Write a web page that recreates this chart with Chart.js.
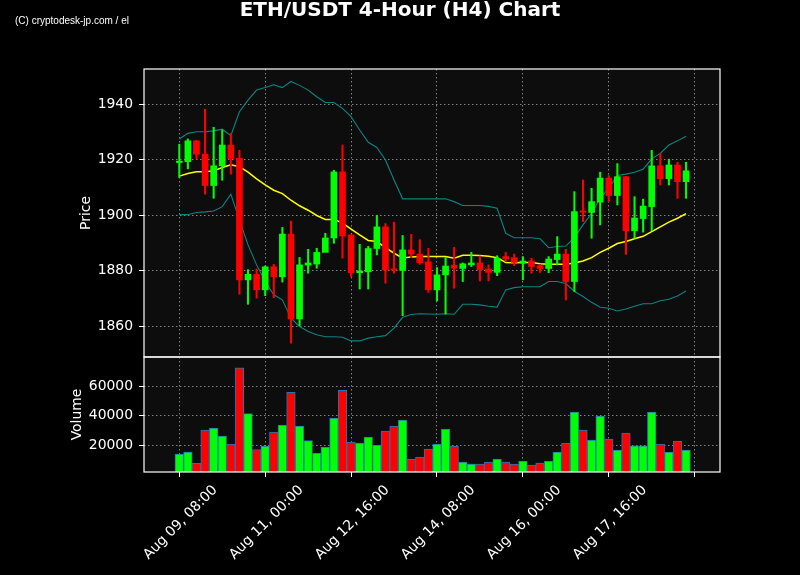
<!DOCTYPE html>
<html lang="en">
<head>
    <meta charset="UTF-8">
    <title>ETH/USDT 4-Hour (H4) Chart</title>
    <script src="https://cdn.jsdelivr.net/npm/chart.js"></script>
    <style>
        body {
            margin: 0;
            background: #000;
        }
        canvas {
            display: block;
        }
    </style>
</head>
<body>
    <canvas id="ethChart" width="800" height="575"></canvas>

    <script>
        // 4h candles, Aug 09 08:00 -> Aug 19 04:00 (index 0..59)
        var open = [
            1919.0, 1919.3, 1926.8, 1922.0, 1910.7, 1917.8, 1925.3, 1920.5, 1876.7, 1878.7,
            1873.1, 1881.4, 1877.8, 1893.2, 1862.6, 1882.0, 1882.4, 1886.6, 1891.8, 1915.6,
            1892.9, 1879.3, 1879.6, 1888.0, 1895.8, 1880.6, 1880.1, 1887.5, 1886.0, 1883.2,
            1873.1, 1878.5, 1882.0, 1880.8, 1882.1, 1882.8, 1880.6, 1879.4, 1885.1, 1884.7,
            1882.7, 1883.5, 1881.8, 1880.8, 1884.0, 1886.0, 1876.1, 1901.4, 1901.0, 1904.7,
            1913.4, 1907.1, 1913.9, 1894.4, 1898.8, 1903.1, 1917.8, 1913.2, 1918.1, 1912.1
        ];
        var high = [
            1925.6, 1927.5, 1927.0, 1938.2, 1931.7, 1930.7, 1929.5, 1923.4, 1880.4, 1880.6,
            1881.7, 1882.3, 1895.6, 1897.9, 1884.8, 1887.7, 1888.1, 1893.5, 1916.2, 1925.3,
            1893.0, 1889.5, 1888.8, 1899.9, 1897.0, 1897.5, 1892.7, 1893.1, 1891.2, 1888.1,
            1881.1, 1884.8, 1888.4, 1882.8, 1886.6, 1885.3, 1882.1, 1885.4, 1886.6, 1886.0,
            1885.1, 1884.5, 1882.3, 1885.1, 1892.3, 1887.7, 1908.5, 1912.7, 1909.7, 1915.5,
            1914.3, 1918.6, 1914.0, 1906.7, 1905.8, 1923.4, 1922.3, 1920.2, 1919.1, 1919.1
        ];
        var low = [
            1913.6, 1916.7, 1920.3, 1907.6, 1906.1, 1912.6, 1914.8, 1871.5, 1867.9, 1870.1,
            1871.0, 1870.3, 1875.9, 1853.9, 1860.2, 1879.1, 1880.9, 1889.9, 1889.9, 1884.5,
            1877.8, 1873.4, 1873.4, 1885.7, 1875.5, 1879.1, 1863.8, 1884.7, 1882.3, 1872.2,
            1869.1, 1864.4, 1873.7, 1876.1, 1881.5, 1876.3, 1876.3, 1878.2, 1883.3, 1881.8,
            1876.7, 1879.1, 1879.4, 1879.3, 1882.1, 1869.4, 1872.5, 1897.7, 1891.7, 1896.5,
            1904.9, 1903.7, 1885.9, 1891.7, 1893.9, 1894.4, 1910.9, 1910.9, 1906.1, 1906.1
        ];
        var close = [
            1919.5, 1926.8, 1922.0, 1910.7, 1917.8, 1925.3, 1920.4, 1876.7, 1878.7, 1873.1,
            1881.4, 1877.8, 1893.2, 1862.6, 1882.1, 1882.8, 1886.6, 1891.8, 1915.6, 1892.5,
            1879.3, 1879.9, 1888.0, 1895.8, 1880.3, 1880.2, 1887.5, 1886.0, 1882.9, 1873.1,
            1878.5, 1881.7, 1880.9, 1882.5, 1882.8, 1880.4, 1879.4, 1884.5, 1884.3, 1883.0,
            1883.5, 1881.5, 1880.8, 1884.2, 1886.0, 1876.1, 1901.3, 1901.1, 1904.9, 1913.4,
            1907.1, 1913.9, 1894.4, 1899.0, 1903.3, 1917.8, 1913.2, 1918.1, 1912.1, 1916.0
        ];
        var volume = [
            13900, 15250, 7530, 30170, 31530, 26100, 20680, 72620, 41430, 17020,
            19320, 28800, 33560, 55930, 32880, 23120, 14580, 18640, 38300, 57290,
            22030, 21360, 25430, 20000, 29490, 32880, 36950, 10510, 11870, 17290,
            20680, 30850, 19320, 8475, 7120, 7120, 8475, 10510, 8475, 7120,
            9150, 6440, 7800, 9150, 15260, 21360, 42380, 30170, 23390, 39660,
            24070, 16610, 28140, 19530, 19530, 42380, 20680, 15260, 22710, 16610
        ];

        // 20-period moving average and Bollinger bands
        var sma = [
            1914.1, 1915.0, 1915.7, 1915.7, 1916.0, 1917.2, 1918.2, 1917.5, 1915.5, 1913.1,
            1910.9, 1909.0, 1907.8, 1905.4, 1903.4, 1901.8, 1899.9, 1898.5, 1898.5, 1897.2,
            1895.0, 1892.9, 1890.9, 1890.5, 1888.3, 1886.3, 1884.6, 1884.9, 1885.1, 1885.1,
            1885.1, 1885.1, 1884.5, 1885.6, 1885.6, 1885.5, 1885.2, 1884.7, 1883.0, 1882.9,
            1883.0, 1883.0, 1882.5, 1882.3, 1882.3, 1882.3, 1882.8, 1883.5, 1884.7, 1886.6,
            1888.1, 1889.8, 1890.5, 1891.5, 1892.4, 1894.1, 1895.8, 1897.5, 1898.9, 1900.6
        ];
        var upperBand = [
            1927.5, 1929.5, 1930.1, 1930.1, 1930.4, 1931.0, 1928.7, 1937.3, 1941.5, 1945.1,
            1946.0, 1947.0, 1946.0, 1948.2, 1946.8, 1945.1, 1942.7, 1940.6, 1940.6, 1938.5,
            1935.5, 1930.7, 1926.3, 1924.4, 1919.9, 1912.7, 1905.9, 1905.9, 1905.9, 1905.9,
            1905.9, 1905.9, 1904.9, 1903.5, 1903.5, 1903.5, 1903.2, 1902.5, 1893.5, 1891.9,
            1891.9, 1891.9, 1891.5, 1888.3, 1888.7, 1888.9, 1892.0, 1896.5, 1900.7, 1906.1,
            1909.7, 1914.3, 1914.8, 1915.5, 1916.6, 1920.3, 1922.3, 1925.3, 1926.8, 1928.5
        ];
        var lowerBand = [
            1900.2, 1900.2, 1901.0, 1901.2, 1901.5, 1903.1, 1907.6, 1898.3, 1889.3, 1882.1,
            1876.1, 1871.3, 1869.5, 1862.9, 1859.9, 1858.1, 1856.9, 1856.2, 1856.2, 1856.0,
            1854.7, 1854.7, 1855.7, 1856.2, 1856.6, 1859.3, 1863.2, 1864.2, 1864.5, 1864.4,
            1864.3, 1864.5, 1864.3, 1867.9, 1867.9, 1867.7, 1867.2, 1866.9, 1873.1, 1873.9,
            1874.2, 1874.2, 1874.2, 1876.1, 1876.1, 1875.4, 1872.5, 1870.7, 1868.6, 1866.8,
            1866.5, 1865.5, 1866.2, 1867.2, 1868.1, 1868.1, 1869.2, 1869.7, 1870.9, 1872.7
        ];

        // axis ticks
        var xTickIndex = [0, 10, 20, 30, 40, 50, 60];
        var xTickLabels = ['Aug 09, 08:00', 'Aug 11, 00:00', 'Aug 12, 16:00', 'Aug 14, 08:00',
                           'Aug 16, 00:00', 'Aug 17, 16:00', ''];
        var priceTicks = [1860, 1880, 1900, 1920, 1940];
        var volumeTicks = [20000, 40000, 60000];

        var UP = '#00ff00';
        var DOWN = '#ff0000';
        var FONT = '"DejaVu Sans", sans-serif';

        // build the dataset points
        var candleColors = open.map(function (o, i) { return close[i] >= o ? UP : DOWN; });
        var wickData = open.map(function (o, i) { return { x: i, y: [low[i], high[i]] }; });
        var bodyData = open.map(function (o, i) { return { x: i, y: [o, close[i]] }; });
        var volData = volume.map(function (v, i) { return { x: i, y: v }; });
        function linePoints(arr) {
            return arr.map(function (v, i) { return { x: i, y: v }; });
        }

        // dark plot background, white frames, title and watermark
        var framePlugin = {
            id: 'frames',
            beforeDraw: function (chart) {
                var c = chart.ctx, a = chart.chartArea;
                c.save();
                c.fillStyle = '#000';
                c.fillRect(0, 0, chart.width, chart.height);
                c.fillStyle = '#0d0d0d';
                c.fillRect(a.left, a.top, a.right - a.left, a.bottom - a.top);
                c.restore();
            },
            afterDraw: function (chart) {
                var c = chart.ctx, a = chart.chartArea;
                var yp = chart.scales.y, yv = chart.scales.yv;
                c.save();
                c.strokeStyle = '#fff';
                c.lineWidth = 1.2;
                c.strokeRect(a.left, yp.top, a.right - a.left, yp.bottom - yp.top);
                c.strokeRect(a.left, yv.top, a.right - a.left, yv.bottom - yv.top);

                c.fillStyle = '#fff';
                c.textAlign = 'center';
                c.textBaseline = 'middle';
                c.font = 'bold 20px ' + FONT;
                c.fillText('ETH/USDT 4-Hour (H4) Chart', 400, 11);

                c.textAlign = 'left';
                c.font = '10px "Liberation Sans", Arial, sans-serif';
                c.fillText('(C) cryptodesk-jp.com / el', 15, 21);
                c.restore();
            }
        };

        var gridColor = 'rgba(150, 150, 150, 0.85)';
        var tickFont = { family: FONT, size: 13.9 };

        var config = {
            type: 'bar',
            data: {
                datasets: [
                    {
                        type: 'line', label: 'SMA 20', data: linePoints(sma),
                        borderColor: '#ffff00', borderWidth: 1.5, pointRadius: 0,
                        yAxisID: 'y', order: 3
                    },
                    {
                        type: 'line', label: 'Upper band', data: linePoints(upperBand),
                        borderColor: '#0e8484', borderWidth: 1.1, pointRadius: 0,
                        yAxisID: 'y', order: 4
                    },
                    {
                        type: 'line', label: 'Lower band', data: linePoints(lowerBand),
                        borderColor: '#0e8484', borderWidth: 1.1, pointRadius: 0,
                        yAxisID: 'y', order: 4
                    },
                    {
                        label: 'Wick', data: wickData, backgroundColor: candleColors,
                        barThickness: 1.4, grouped: false, yAxisID: 'y', order: 2
                    },
                    {
                        label: 'Body', data: bodyData, backgroundColor: candleColors,
                        barThickness: 6, minBarLength: 1.3, grouped: false, yAxisID: 'y', order: 1
                    },
                    {
                        label: 'Volume', data: volData, backgroundColor: candleColors,
                        borderColor: '#1f77b4', borderWidth: 1, barThickness: 8.6,
                        grouped: false, yAxisID: 'yv', clip: 0, order: 1
                    }
                ]
            },
            options: {
                responsive: false,
                animation: false,
                devicePixelRatio: 1,
                layout: { padding: { left: 60, right: 80, top: 69, bottom: 0 } },
                plugins: {
                    legend: { display: false },
                    tooltip: { enabled: false }
                },
                scales: {
                    x: {
                        type: 'linear',
                        min: -4.11,
                        max: 62.95,
                        offset: false,
                        afterBuildTicks: function (s) {
                            s.ticks = xTickIndex.map(function (v) { return { value: v }; });
                        },
                        afterFit: function (s) { s.height = 103; },
                        grid: { color: gridColor, offset: false, tickLength: 5, tickColor: '#fff' },
                        border: { display: false, dash: [1.5, 2.5] },
                        ticks: {
                            autoSkip: false,
                            minRotation: 45,
                            maxRotation: 45,
                            labelOffset: 36,
                            padding: 5,
                            color: '#fff',
                            font: tickFont,
                            callback: function (v, i) { return xTickLabels[i]; }
                        }
                    },
                    // volume panel listed first so that it sits under the price panel
                    yv: {
                        type: 'linear',
                        position: 'left',
                        stack: 'panels',
                        stackWeight: 115,
                        min: 1700,
                        max: 79900,
                        beginAtZero: false,
                        afterBuildTicks: function (s) {
                            s.ticks = volumeTicks.map(function (v) { return { value: v }; });
                        },
                        afterFit: function (s) { s.width = 84; },
                        grid: { color: gridColor, tickLength: 5, tickColor: '#fff' },
                        border: { display: false, dash: [1.5, 2.5] },
                        ticks: {
                            color: '#fff', font: tickFont, padding: 6,
                            callback: function (v) { return String(v); }
                        },
                        title: {
                            display: true, text: 'Volume', color: '#fff',
                            font: tickFont, padding: { top: 8.7, bottom: 0 }
                        }
                    },
                    y: {
                        type: 'linear',
                        position: 'left',
                        stack: 'panels',
                        stackWeight: 288,
                        min: 1848.9,
                        max: 1952.7,
                        beginAtZero: false,
                        afterBuildTicks: function (s) {
                            s.ticks = priceTicks.map(function (v) { return { value: v }; });
                        },
                        afterFit: function (s) { s.width = 84; },
                        grid: { color: gridColor, tickLength: 5, tickColor: '#fff' },
                        border: { display: false, dash: [1.5, 2.5] },
                        ticks: {
                            color: '#fff', font: tickFont, padding: 6,
                            callback: function (v) { return String(v); }
                        },
                        title: {
                            display: true, text: 'Price', color: '#fff',
                            font: tickFont, padding: { top: 17.7, bottom: 0 }
                        }
                    }
                }
            },
            plugins: [framePlugin]
        };

        var ctx = document.getElementById('ethChart').getContext('2d');
        var ethChart = new Chart(ctx, config);
    </script>
</body>
</html>
